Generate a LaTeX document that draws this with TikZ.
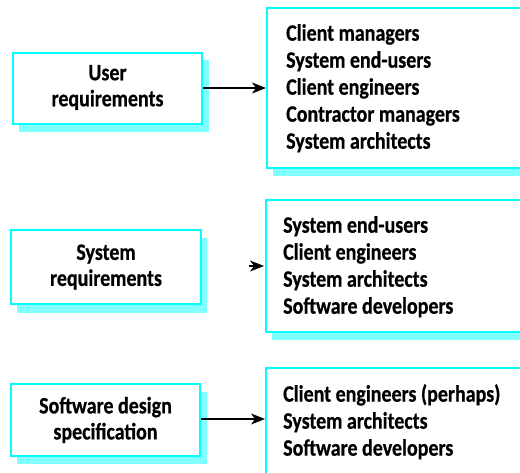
\documentclass[tikz,border=0pt]{standalone}
\usepackage{fontspec}
\newfontfamily\lblfont{Carlito Bold}[FakeStretch=0.85, FakeBold=0.6]
\usetikzlibrary{arrows.meta}
\definecolor{cyanB}{HTML}{00FFFF}
\definecolor{cyanS}{HTML}{80FFFF}
\tikzset{
  docbox/.style={draw=cyanB, line width=2pt, fill=white, inner sep=0pt, anchor=north west},
  lbl/.style={font=\lblfont\fontsize{23.5}{26}\selectfont, align=center, inner sep=0pt},
  lst/.style={font=\lblfont\fontsize{23.5}{27}\selectfont, align=left, inner sep=0pt, anchor=north west},
  conn/.style={line width=1.2pt, -{Stealth[length=14pt,width=11pt,inset=4pt]}}
}
\begin{document}
\begin{tikzpicture}[x=1pt,y=-1pt]
\useasboundingbox (0,0) rectangle (520,472);
% shadows
\fill[cyanS] (19,60) rectangle (209,132);
\fill[cyanS] (17,238) rectangle (207,313);
\fill[cyanS] (17,392) rectangle (207,464);
\fill[cyanS] (273,15) rectangle (530,176);
\fill[cyanS] (272,207) rectangle (530,340);
\fill[cyanS] (272,375) rectangle (530,480);
% boxes
\node[docbox, minimum width=189pt, minimum height=71pt] (b1) at (12,52) {};
\node[docbox, minimum width=190pt, minimum height=74pt] (b2) at (10,229) {};
\node[docbox, minimum width=189pt, minimum height=72pt] (b3) at (10,383) {};
\node[docbox, minimum width=270pt, minimum height=160pt] (r1) at (266,7) {};
\node[docbox, minimum width=270pt, minimum height=132pt] (r2) at (265,199) {};
\node[docbox, minimum width=270pt, minimum height=120pt] (r3) at (265,367) {};
% labels
\node[lbl] (t1) at ([yshift=1pt]b1.center) {User\\requirements};
\node[lbl] (t2) at (b2.center) {System\\requirements};
\node[lbl] (t3) at (b3.center) {Software design\\specification};
\node[lst] (l1) at (286,24) {Client managers\\System end-users\\Client engineers\\Contractor managers\\System architects};
\node[lst] (l2) at (283,216) {System end-users\\Client engineers\\System architects\\Software developers};
\node[lst] (l3) at (283,384) {Client engineers (perhaps)\\System architects\\Software developers};
% connectors
\coordinate (a1) at (266,88);
\coordinate (a2) at (264,266);
\coordinate (a3) at (265,419);
\draw[conn] (b1.east |- a1) -- (a1);
\draw[conn, shorten <=47pt] (b2.east |- a2) -- (a2);
\draw[conn] (b3.east |- a3) -- (a3);
\end{tikzpicture}
\end{document}
